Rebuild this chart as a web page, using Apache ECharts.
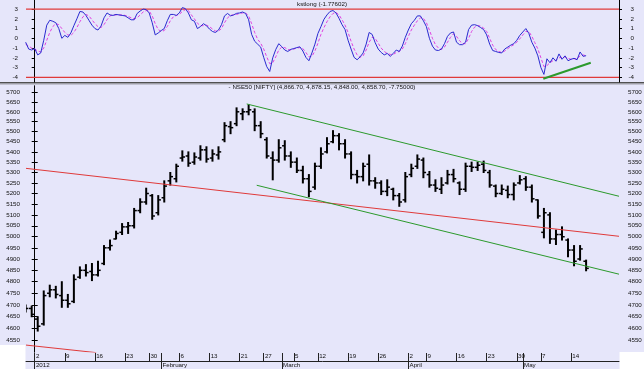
<!DOCTYPE html>
<html><head><meta charset="utf-8">
<script src="https://cdn.jsdelivr.net/npm/echarts@6/dist/echarts.min.js"></script>
<style>html,body{margin:0;padding:0;background:#fff}#c{width:644px;height:369px}</style>
</head><body><div id="c"></div>
<script>
// ---- trading days (position: dates[0] = 2011-12-29 is day -2, 2012-01-02 is day 0)
const dates = ['2011-12-29','2011-12-30',
'2012-01-02','2012-01-03','2012-01-04','2012-01-05','2012-01-06','2012-01-09','2012-01-10','2012-01-11','2012-01-12','2012-01-13',
'2012-01-16','2012-01-17','2012-01-18','2012-01-19','2012-01-20','2012-01-23','2012-01-24','2012-01-25','2012-01-27','2012-01-30','2012-01-31',
'2012-02-01','2012-02-02','2012-02-03','2012-02-06','2012-02-07','2012-02-08','2012-02-09','2012-02-10','2012-02-13','2012-02-14',
'2012-02-15','2012-02-16','2012-02-17','2012-02-21','2012-02-22','2012-02-23','2012-02-24','2012-02-27','2012-02-28','2012-02-29',
'2012-03-01','2012-03-02','2012-03-05','2012-03-06','2012-03-07','2012-03-09','2012-03-12','2012-03-13','2012-03-14','2012-03-15','2012-03-16',
'2012-03-19','2012-03-20','2012-03-21','2012-03-22','2012-03-23','2012-03-26','2012-03-27','2012-03-28','2012-03-29','2012-03-30',
'2012-04-02','2012-04-03','2012-04-04','2012-04-09','2012-04-10','2012-04-11','2012-04-12','2012-04-13','2012-04-16','2012-04-17',
'2012-04-18','2012-04-19','2012-04-20','2012-04-23','2012-04-24','2012-04-25','2012-04-26','2012-04-27','2012-04-30',
'2012-05-02','2012-05-03','2012-05-04','2012-05-07','2012-05-08','2012-05-09','2012-05-10','2012-05-11','2012-05-14','2012-05-15','2012-05-16'];

const opens = [4690,4685,4640,4620,4750,4765,4740,4720,4715,4820,4850,4845,4830,4880,4950,4990,5020,5045,5050,5120,5160,5190,5110,
5180,5260,5270,5370,5380,5350,5370,5410,5370,5385,5460,5525,5540,5590,5600,5600,5530,5460,5370,5360,
5430,5380,5350,5310,5270,5230,5330,5400,5450,5480,5440,5390,5290,5280,5340,5260,5250,5210,5220,5190,5170,
5290,5330,5360,5290,5240,5220,5250,5290,5250,5220,5330,5325,5340,5300,5235,5200,5215,5195,5250,
5270,5230,5170,5020,5100,4990,5010,4985,4940,4900,4890];
const highs = [4700,4695,4650,4760,4785,4780,4800,4745,4830,4865,4875,4880,4890,4960,4985,5025,5060,5065,5130,5175,5225,5195,5190,
5260,5300,5340,5405,5400,5395,5430,5425,5410,5425,5545,5550,5620,5615,5635,5615,5550,5470,5400,5460,
5455,5400,5370,5330,5290,5345,5420,5470,5505,5490,5460,5400,5310,5345,5385,5275,5260,5265,5225,5200,5300,
5340,5385,5370,5305,5265,5275,5310,5315,5255,5345,5350,5350,5355,5310,5240,5240,5235,5250,5285,
5280,5240,5170,5130,5110,5030,5045,4990,4960,4960,4895];
const lows = [4670,4650,4590,4615,4735,4730,4690,4690,4710,4815,4825,4805,4825,4875,4940,4990,5010,5015,5040,5110,5150,5080,5100,
5160,5240,5255,5355,5330,5340,5360,5350,5355,5365,5450,5490,5530,5560,5585,5505,5470,5370,5265,5350,
5360,5325,5300,5250,5185,5220,5320,5395,5445,5410,5370,5270,5250,5260,5240,5225,5195,5190,5170,5140,5160,
5280,5320,5275,5230,5210,5200,5245,5255,5195,5210,5305,5310,5300,5230,5185,5195,5180,5170,5245,
5215,5160,5085,4995,4970,4965,4985,4910,4870,4895,4848];
const closes = [4685,4660,4610,4740,4765,4745,4720,4705,4810,4850,4840,4830,4850,4950,4960,5015,5045,5050,5120,5160,5200,5095,5170,
5235,5280,5330,5375,5345,5375,5410,5365,5390,5400,5530,5520,5600,5600,5610,5530,5490,5380,5360,5420,
5380,5350,5310,5270,5210,5330,5390,5440,5480,5440,5390,5290,5280,5330,5260,5250,5210,5230,5190,5160,5280,
5320,5365,5300,5240,5225,5240,5290,5270,5220,5330,5325,5335,5310,5240,5200,5220,5195,5240,5265,
5230,5175,5095,5110,4990,5010,5000,4940,4890,4945,4858.7];

// kstlong indicator, sampled every half trading day starting at the middle of 2011-12-29
const kstLong = [-0.4,-1.1,-1.2,-1.05,-1.7,-1.5,-0.2,1.35,1.85,1.75,1.6,1.0,0.0,0.3,0.1,0.55,1.3,2.0,2.75,2.7,
2.35,1.85,1.35,1.0,0.85,1.25,2.1,2.6,2.4,2.35,2.45,2.4,2.35,2.3,2.1,1.9,1.9,2.55,2.8,3.0,
2.95,2.6,1.6,0.35,0.55,0.8,1.0,1.8,2.45,2.45,2.35,2.6,3.15,3.05,2.6,1.9,1.75,1.0,1.2,1.5,
1.3,0.95,0.7,0.6,0.85,1.4,2.3,2.55,2.3,2.4,2.56,2.6,2.7,2.55,1.9,0.4,-0.3,-0.6,-0.9,-1.95,
-2.9,-3.4,-2.0,-1.15,-0.55,-0.85,-1.2,-1.35,-1.13,-1.05,-0.95,-0.87,-1.3,-1.95,-2.3,-1.5,-0.6,0.5,1.2,1.95,
2.4,2.75,2.85,2.6,2.05,1.4,0.9,-0.2,-1.1,-1.95,-2.2,-1.9,-1.5,-0.6,0.6,0.4,-0.45,-1.1,-1.45,-1.7,
-1.55,-1.85,-1.55,-1.2,-1.35,-0.8,0.1,0.85,1.5,1.85,2.3,2.3,1.8,1.2,0.0,-0.8,-1.2,-1.25,-1.1,-0.55,
0.2,0.55,0.65,-0.4,-0.65,-0.65,-0.4,0.9,1.35,1.4,1.3,1.1,0.9,0.35,-0.6,-1.25,-1.35,-1.45,-1.5,-1.1,
-0.9,-0.7,-0.55,-0.2,0.3,0.65,1.0,0.5,-0.4,-1.0,-1.8,-3.0,-3.7,-2.1,-2.5,-2.0,-2.35,-1.6,-2.15,-1.8,
-2.3,-2.15,-2.05,-2.2,-1.4,-1.85,-1.78];
const kstSignal = [-0.6,-0.8,-1.0,-1.1,-1.3,-1.4,-1.0,-0.2,0.6,1.2,1.5,1.4,1.0,0.6,0.35,0.3,0.6,1.1,1.7,2.2,
2.45,2.3,1.9,1.5,1.2,1.1,1.4,1.9,2.3,2.4,2.4,2.4,2.4,2.35,2.25,2.1,2.0,2.1,2.4,2.7,
2.85,2.8,2.3,1.5,0.9,0.7,0.8,1.2,1.8,2.2,2.35,2.45,2.75,2.95,2.85,2.4,2.0,1.55,1.3,1.3,
1.35,1.2,0.95,0.75,0.75,1.0,1.6,2.1,2.35,2.4,2.45,2.55,2.6,2.6,2.3,1.5,0.6,-0.1,-0.5,-1.1,
-1.9,-2.6,-2.5,-1.9,-1.2,-0.9,-0.95,-1.15,-1.2,-1.1,-1.0,-0.95,-1.05,-1.45,-1.9,-1.85,-1.3,-0.5,0.4,1.1,
1.7,2.2,2.55,2.65,2.4,1.9,1.35,0.6,-0.3,-1.1,-1.7,-1.95,-1.8,-1.2,-0.4,0.1,0.0,-0.5,-1.0,-1.35,
-1.55,-1.65,-1.65,-1.45,-1.35,-1.1,-0.55,0.2,0.85,1.35,1.8,2.1,2.05,1.6,0.85,0.0,-0.65,-1.0,-1.15,-0.9,
-0.4,0.1,0.45,0.2,-0.25,-0.55,-0.55,0.0,0.7,1.15,1.3,1.25,1.05,0.7,0.0,-0.7,-1.15,-1.35,-1.45,-1.3,
-1.05,-0.85,-0.65,-0.4,-0.05,0.35,0.7,0.7,0.2,-0.45,-1.1,-2.0,-2.9,-2.8,-2.5,-2.3,-2.25,-2.0,-1.95,-1.9,
-2.05,-2.15,-2.1,-2.1,-1.8,-1.7,-1.8];

// tick labels
const weekLabelDates = ['2012-01-02','2012-01-09','2012-01-16','2012-01-23','2012-01-30','2012-02-06','2012-02-13','2012-02-21','2012-02-27',
'2012-03-05','2012-03-12','2012-03-19','2012-03-26','2012-04-02','2012-04-09','2012-04-16','2012-04-23','2012-04-30','2012-05-07','2012-05-14'];
const weekLabels = ['2','9','16','23','30','6','13','21','27','5','12','19','26','2','9','16','23','30','7','14'];
const monthLabelDates = ['2012-01-02','2012-02-01','2012-03-01','2012-04-02','2012-05-02'];
const monthLabels = ['2012','February','March','April','May'];
const kstTicks = [-4,-3,-2,-1,0,1,2,3];
const priceTicks = [4550,4600,4650,4700,4750,4800,4850,4900,4950,5000,5050,5100,5150,5200,5250,5300,5350,5400,5450,5500,5550,5600,5650,5700];
const kstLevels = [3,-4];

// trend lines: [trading-day position, value]
const kstTrend = [[84.4,-4.14],[92.27,-2.5]];
const redTrend = [[-1.444,5320],[96.96,5002]];
const redTrend2 = [[-1.444,4532],[10.2,4501]];
const greenUpper = [[35.18,5640],[96.96,5187]];
const greenLower = [[36.84,5239],[96.96,4833]];

const titleTop = 'kstlong (-1.77602)';
const titleBottom = '- NSE50 [NIFTY] (4,866.70, 4,878.15, 4,848.00, 4,858.70, -7.75000)';

// ---------------- build
const XMIN = -1.444, XMAX = 96.96;
const dayStart = d => dates.indexOf(d) - 2;
const bars = dates.map((d, i) => [dayStart(d) + 0.5, opens[i], closes[i], lows[i], highs[i]]);
const kstData = kstLong.map((v, k) => [-1.5 + 0.5 * k, v]);
const sigData = kstSignal.map((v, k) => [-1.5 + 0.5 * k, v]);
const levelLines = kstLevels.map(v => [[XMIN, v], [XMAX, v]]);
const LOFF = 0.2;
const weekPos = weekLabelDates.map(d => dayStart(d));
const monthPos = monthLabelDates.map(d => dayStart(d));
const weekMap = {}, monthMap = {};
weekPos.forEach((p, i) => weekMap[(p + LOFF).toFixed(2)] = weekLabels[i]);
monthPos.forEach((p, i) => monthMap[(p + LOFF).toFixed(2)] = monthLabels[i]);
const allTicks = Array.from(new Set(weekPos.concat(monthPos))).sort((a, b) => a - b);

const FONT = 'Liberation Sans, Arial, sans-serif';
const FS = 6.2;
const TXT = '#111';

const yBase = {
  axisLine: {show: true, lineStyle: {color: '#000', width: 1}},
  splitLine: {show: false},
};
function yAx(grid, pos, extra) {
  return Object.assign({gridIndex: grid, position: pos}, yBase, extra);
}

function renderOHLC(params, api) {
  const x = api.value(0);
  const pl = api.coord([x, api.value(3)]);
  const ph = api.coord([x, api.value(4)]);
  const po = api.coord([x, api.value(1)]);
  const pc = api.coord([x, api.value(2)]);
  const st = {stroke: '#000', lineWidth: 2};
  const tk = {stroke: '#000', lineWidth: 1.5};
  return {type: 'group', children: [
    {type: 'line', shape: {x1: pl[0], y1: pl[1] + 0.5, x2: ph[0], y2: ph[1] - 0.5}, style: st},
    {type: 'line', shape: {x1: po[0] - 2.7, y1: po[1], x2: po[0], y2: po[1]}, style: tk},
    {type: 'line', shape: {x1: pc[0], y1: pc[1], x2: pc[0] + 2.7, y2: pc[1]}, style: tk}
  ]};
}

const lineS = (xi, yi, data, color, width, extra) => Object.assign({type: 'line', xAxisIndex: xi, yAxisIndex: yi, data: data,
  showSymbol: false, silent: true, lineStyle: {color: color, width: width}}, extra || {});

const chart = echarts.init(document.getElementById('c'), null, {renderer: 'canvas'});
chart.setOption({
  backgroundColor: '#E6E6FA',
  animation: false,
  title: [
    {text: titleTop, left: 'center', top: 1, textStyle: {fontSize: FS, fontWeight: 'normal', color: TXT, fontFamily: FONT}, padding: 0},
    {text: titleBottom, left: 'center', top: 84, textStyle: {fontSize: FS, fontWeight: 'normal', color: TXT, fontFamily: FONT}, padding: 0}
  ],
  grid: [
    {left: 26, right: 25, top: 0, height: 82, outerBoundsMode: 'none'},
    {left: 26, right: 25, top: 86, height: 266, outerBoundsMode: 'none'}
  ],
  xAxis: [
    {gridIndex: 0, type: 'value', min: XMIN, max: XMAX, show: false},
    {gridIndex: 1, type: 'value', min: XMIN, max: XMAX, position: 'bottom', offset: 9,
      axisLine: {show: true, lineStyle: {color: '#222', width: 1}},
      axisTick: {show: true, inside: true, length: 8, customValues: allTicks, lineStyle: {color: '#222'}},
      axisLabel: {inside: true, margin: 2, customValues: weekPos.map(p => p + LOFF), align: 'left',
        fontSize: FS, color: TXT, fontFamily: FONT, formatter: v => weekMap[v.toFixed(2)] || ''},
      splitLine: {show: false}},
    {gridIndex: 1, type: 'value', min: XMIN, max: XMAX, position: 'bottom', offset: 9,
      axisLine: {show: false},
      axisTick: {show: true, inside: false, length: 8, customValues: monthPos, lineStyle: {color: '#222'}},
      axisLabel: {margin: 1, customValues: monthPos.map(p => p + LOFF), align: 'left',
        fontSize: FS, color: TXT, fontFamily: FONT, formatter: v => monthMap[v.toFixed(2)] || ''},
      splitLine: {show: false}}
  ],
  yAxis: [
    yAx(0, 'left', {type: 'value', min: -4.48, max: 3.93,
      axisTick: {show: true, length: 3, customValues: kstTicks, lineStyle: {color: '#000'}},
      axisLabel: {margin: 8, customValues: kstTicks, fontSize: FS, color: TXT, fontFamily: FONT}}),
    yAx(0, 'right', {type: 'value', min: -4.48, max: 3.93,
      axisTick: {show: true, length: 3, customValues: kstTicks, lineStyle: {color: '#000'}},
      axisLabel: {margin: 15, align: 'right', customValues: kstTicks, fontSize: FS, color: TXT, fontFamily: FONT}}),
    yAx(1, 'left', {type: 'log', logBase: 10, min: 4503.6, max: 5732.6,
      axisTick: {show: true, length: 3, customValues: priceTicks, lineStyle: {color: '#000'}},
      axisLabel: {margin: 6, customValues: priceTicks, fontSize: FS, color: TXT, fontFamily: FONT, formatter: v => String(Math.round(v))}}),
    yAx(1, 'right', {type: 'log', logBase: 10, min: 4503.6, max: 5732.6,
      axisTick: {show: true, length: 3, customValues: priceTicks, lineStyle: {color: '#000'}},
      axisLabel: {margin: 9, customValues: priceTicks, fontSize: FS, color: TXT, fontFamily: FONT, formatter: v => String(Math.round(v))}})
  ],
  series: [
    lineS(0, 0, levelLines[0], '#e03a3a', 1.2),
    lineS(0, 0, levelLines[1], '#e03a3a', 1.2),
    lineS(0, 0, sigData, '#e040e0', 1, {lineStyle: {color: '#e040e0', width: 1, type: [3, 2]}}),
    lineS(0, 0, kstData, '#2a2ad0', 1),
    lineS(0, 0, kstTrend, '#2c9a2c', 2),
    {type: 'custom', xAxisIndex: 1, yAxisIndex: 2, data: bars, renderItem: renderOHLC, clip: true, silent: true,
      encode: {x: 0, y: [1, 2, 3, 4]}},
    lineS(1, 2, redTrend, '#e03a3a', 1),
    lineS(1, 2, redTrend2, '#e03a3a', 1),
    lineS(1, 2, greenUpper, '#2c9a2c', 1),
    lineS(1, 2, greenLower, '#2c9a2c', 1)
  ],
  graphic: [
    {type: 'rect', shape: {x: 0, y: 82, width: 644, height: 1.5}, style: {fill: '#505050'}, silent: true},
    {type: 'rect', shape: {x: 0, y: 83.5, width: 644, height: 1}, style: {fill: '#a0a0a8'}, silent: true},
    {type: 'rect', shape: {x: 0, y: 345, width: 25.5, height: 24}, style: {fill: '#ffffff'}, silent: true, z: -1},
    {type: 'rect', shape: {x: 619.5, y: 352, width: 25, height: 17}, style: {fill: '#ffffff'}, silent: true, z: -1}
  ]
});
</script></body></html>
